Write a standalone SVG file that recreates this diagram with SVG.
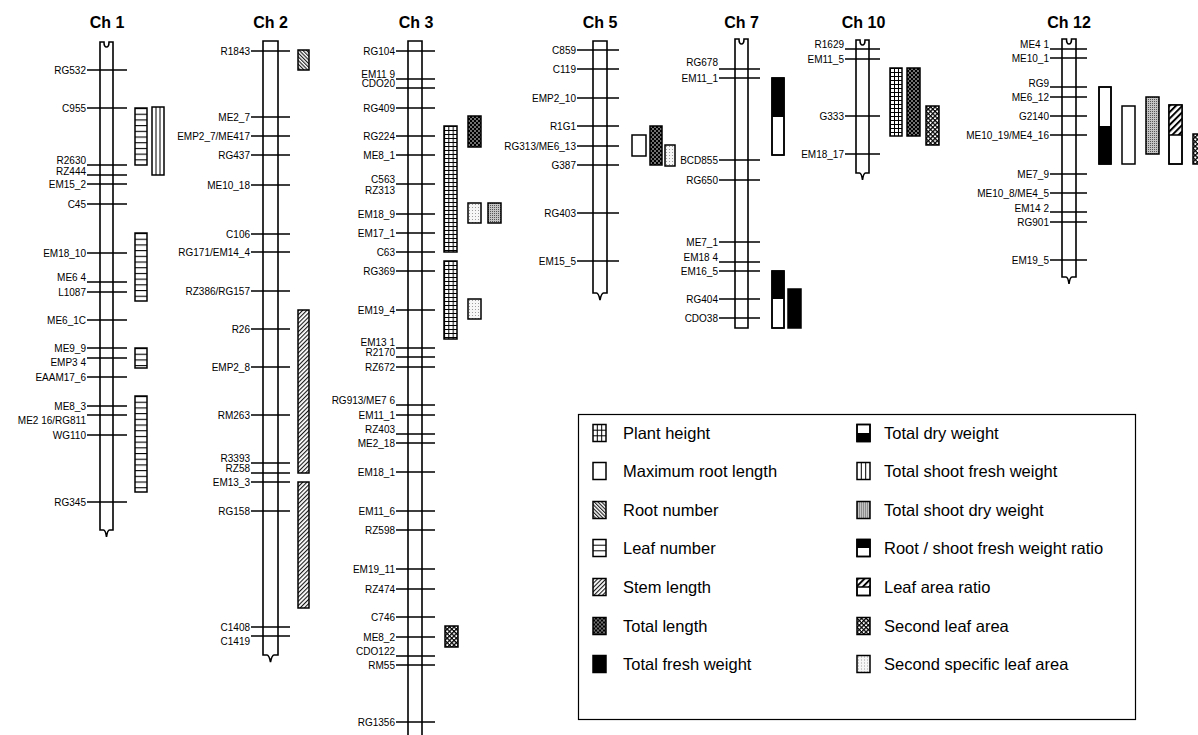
<svg xmlns="http://www.w3.org/2000/svg" width="1198" height="735" viewBox="0 0 1198 735">
<style>
text{font-family:"Liberation Sans",Arial,sans-serif;fill:#000}
.l{font-size:10px;text-anchor:end}
.ti{font-size:16px;font-weight:bold;text-anchor:middle}
.lg{font-size:16.5px}
.chr{fill:#fff;stroke:#000;stroke-width:1.6}
.m{stroke:#000;stroke-width:1.5}
.b{stroke:#000;stroke-width:1.5}
.in{stroke:#000;stroke-width:1;fill:none}
</style>
<defs>
<pattern id="pGrid" patternUnits="userSpaceOnUse" width="4.33" height="4"><rect width="4.33" height="4" fill="#fff"/><path d="M0,0.5H4.33M0.5,0V4" stroke="#000" stroke-width="1"/></pattern>
<pattern id="pGrid4" patternUnits="userSpaceOnUse" width="4" height="4"><rect width="4" height="4" fill="#fff"/><path d="M0,0.5H4M0.5,0V4" stroke="#000" stroke-width="1"/></pattern>
<pattern id="pLeaf" patternUnits="userSpaceOnUse" width="12" height="5.7"><rect width="12" height="5.7" fill="#fff"/><path d="M0,0.5H12" stroke="#000" stroke-width="1.2"/></pattern>
<pattern id="pRoot" patternUnits="userSpaceOnUse" width="2.6" height="2.6" patternTransform="rotate(-45)"><rect width="2.6" height="2.6" fill="#fff"/><path d="M0.6,0V2.6" stroke="#000" stroke-width="1"/></pattern>
<pattern id="pStem" patternUnits="userSpaceOnUse" width="3" height="3" patternTransform="rotate(45)"><rect width="3" height="3" fill="#fff"/><path d="M0.6,0V3" stroke="#000" stroke-width="1"/></pattern>
<pattern id="pLar" patternUnits="userSpaceOnUse" width="4.5" height="4.5" patternTransform="rotate(45)"><rect width="4.5" height="4.5" fill="#fff"/><path d="M1,0V4.5" stroke="#000" stroke-width="2"/></pattern>
<pattern id="pDots" patternUnits="userSpaceOnUse" width="4" height="4"><rect width="4" height="4" fill="#000"/><circle cx="1" cy="1" r="0.8" fill="#fff"/><circle cx="3" cy="3" r="0.8" fill="#fff"/></pattern>
<pattern id="pSla" patternUnits="userSpaceOnUse" width="3.2" height="3.2" patternTransform="rotate(45)"><rect width="3.2" height="3.2" fill="#fff"/><path d="M0,0.6H3.2M0.6,0V3.2" stroke="#000" stroke-width="1.3"/></pattern>
<pattern id="pGray" patternUnits="userSpaceOnUse" width="2" height="2"><rect width="2" height="2" fill="#c4c4c4"/><rect width="1" height="1" fill="#555"/></pattern>
<pattern id="pSsla" patternUnits="userSpaceOnUse" width="3" height="3"><rect width="3" height="3" fill="#f6f6f6"/><rect x="1" y="1" width="0.9" height="0.9" fill="#888"/></pattern>
</defs>

<g id="ch1">
<text class="ti" x="107" y="28">Ch 1</text>
<path class="chr" d="M100,530V42H104q0,5 2.5,5q2.5,0 2.5,-5H113V530H109.5Q107.5,530 106.5,537Q105.5,530 103.5,530Z"/>
<path class="m" d="M87,70H127M87,108H127M87,165H127M87,175H127M87,184H127M87,204H127M87,253H127M87,282H127M87,292H127M87,320H127M87,348H127M87,358H127M87,377H127M87,406H127M87,415H127M87,435H127M87,502H127"/>
<text class="l" x="86" y="73.5">RG532</text>
<text class="l" x="86" y="111.5">C955</text>
<text class="l" x="86" y="164">R2630</text>
<text class="l" x="86" y="174.5">RZ444</text>
<text class="l" x="86" y="187.5">EM15_2</text>
<text class="l" x="86" y="207.5">C45</text>
<text class="l" x="86" y="256.5">EM18_10</text>
<text class="l" x="86" y="281">ME6 4</text>
<text class="l" x="86" y="295.5">L1087</text>
<text class="l" x="86" y="323.5">ME6_1C</text>
<text class="l" x="86" y="351.5">ME9_9</text>
<text class="l" x="86" y="366">EMP3 4</text>
<text class="l" x="86" y="380.5">EAAM17_6</text>
<text class="l" x="86" y="409.5">ME8_3</text>
<text class="l" x="86" y="424">ME2 16/RG811</text>
<text class="l" x="86" y="438.5">WG110</text>
<text class="l" x="86" y="505.5">RG345</text>
</g>
<g id="qtl-ch1">
<g transform="translate(135,108)"><rect class="b" width="12" height="57" fill="url(#pLeaf)"/></g>
<g transform="translate(135,233)"><rect class="b" width="12" height="68" fill="url(#pLeaf)"/></g>
<g transform="translate(135,348)"><rect class="b" width="12" height="20" fill="url(#pLeaf)"/></g>
<g transform="translate(135,396)"><rect class="b" width="12" height="96" fill="url(#pLeaf)"/></g>
<g transform="translate(152,107)"><rect class="b" width="12" height="68" fill="#fff"/><path class="in" d="M4,0V68M8,0V68"/></g>
</g>

<g id="ch2">
<text class="ti" x="270.5" y="28">Ch 2</text>
<path class="chr" d="M263,655V41H278V655H274Q272,655 270.5,662Q269,655 267,655Z"/>
<path class="m" d="M251,51H290M251,117H290M251,136H290M251,155H290M251,185H290M251,234H290M251,252H290M251,291H290M251,329H290M251,367H290M251,415H290M251,463H290M251,473H290M251,482H290M251,511H290M251,627H290M251,636H290"/>
<text class="l" x="250" y="54.5">R1843</text>
<text class="l" x="250" y="120.5">ME2_7</text>
<text class="l" x="250" y="139.5">EMP2_7/ME417</text>
<text class="l" x="250" y="158.5">RG437</text>
<text class="l" x="250" y="188.5">ME10_18</text>
<text class="l" x="250" y="237.5">C106</text>
<text class="l" x="250" y="255.5">RG171/EM14_4</text>
<text class="l" x="250" y="294.5">RZ386/RG157</text>
<text class="l" x="250" y="332.5">R26</text>
<text class="l" x="250" y="370.5">EMP2_8</text>
<text class="l" x="250" y="418.5">RM263</text>
<text class="l" x="250" y="462">R3393</text>
<text class="l" x="250" y="472">RZ58</text>
<text class="l" x="250" y="485.5">EM13_3</text>
<text class="l" x="250" y="514.5">RG158</text>
<text class="l" x="250" y="630.5">C1408</text>
<text class="l" x="250" y="645">C1419</text>
</g>
<g id="qtl-ch2">
<g transform="translate(298,50)"><rect class="b" width="11" height="20" fill="url(#pRoot)"/></g>
<g transform="translate(298,310)"><rect class="b" width="11" height="163" fill="url(#pStem)"/></g>
<g transform="translate(298,482)"><rect class="b" width="11" height="126" fill="url(#pStem)"/></g>
</g>

<g id="ch3">
<text class="ti" x="416" y="28">Ch 3</text>
<path class="chr" d="M408,745V41H422V745"/>
<path class="m" d="M396,51H435M396,79H435M396,88H435M396,108H435M396,136H435M396,155H435M396,184H435M396,214H435M396,233H435M396,252H435M396,271H435M396,310H435M396,348H435M396,357H435M396,367H435M396,405H435M396,415H435M396,434H435M396,443H435M396,472H435M396,511H435M396,530H435M396,569H435M396,589H435M396,617H435M396,637H435M396,656H435M396,665H435M396,722H435"/>
<text class="l" x="395" y="54.5">RG104</text>
<text class="l" x="395" y="77.5">EM11 9</text>
<text class="l" x="395" y="87">CDO20</text>
<text class="l" x="395" y="111.5">RG409</text>
<text class="l" x="395" y="139.5">RG224</text>
<text class="l" x="395" y="158.5">ME8_1</text>
<text class="l" x="395" y="183">C563</text>
<text class="l" x="395" y="193.5">RZ313</text>
<text class="l" x="395" y="217.5">EM18_9</text>
<text class="l" x="395" y="236.5">EM17_1</text>
<text class="l" x="395" y="255.5">C63</text>
<text class="l" x="395" y="274.5">RG369</text>
<text class="l" x="395" y="313.5">EM19_4</text>
<text class="l" x="395" y="346">EM13 1</text>
<text class="l" x="395" y="356">R2170</text>
<text class="l" x="395" y="370.5">RZ672</text>
<text class="l" x="395" y="403.5">RG913/ME7 6</text>
<text class="l" x="395" y="418.5">EM11_1</text>
<text class="l" x="395" y="433">RZ403</text>
<text class="l" x="395" y="446.5">ME2_18</text>
<text class="l" x="395" y="475.5">EM18_1</text>
<text class="l" x="395" y="514.5">EM11_6</text>
<text class="l" x="395" y="533.5">RZ598</text>
<text class="l" x="395" y="572.5">EM19_11</text>
<text class="l" x="395" y="592.5">RZ474</text>
<text class="l" x="395" y="620.5">C746</text>
<text class="l" x="395" y="640.5">ME8_2</text>
<text class="l" x="395" y="655">CDO122</text>
<text class="l" x="395" y="668.5">RM55</text>
<text class="l" x="395" y="725.5">RG1356</text>
</g>
<g id="qtl-ch3">
<g transform="translate(444,126)"><rect class="b" width="13" height="126" fill="url(#pGrid)"/></g>
<g transform="translate(444,261)"><rect class="b" width="13" height="78" fill="url(#pGrid)"/></g>
<g transform="translate(468,116)"><rect class="b" width="13" height="31" fill="url(#pDots)"/></g>
<g transform="translate(468,203)"><rect class="b" width="13" height="20" fill="url(#pSsla)"/></g>
<g transform="translate(488,203)"><rect class="b" width="13" height="20" fill="url(#pGray)"/></g>
<g transform="translate(468,299)"><rect class="b" width="13" height="20" fill="url(#pSsla)"/></g>
<g transform="translate(445,626)"><rect class="b" width="13" height="21" fill="url(#pSla)"/></g>
</g>

<g id="ch5">
<text class="ti" x="600" y="28">Ch 5</text>
<path class="chr" d="M593,293V41H607V293H603.5Q601.5,293 600,300Q598.5,293 596.5,293Z"/>
<path class="m" d="M577,50H619M577,69H619M577,98H619M577,126H619M577,146H619M577,165H619M577,213H619M577,261H619"/>
<text class="l" x="576" y="53.5">C859</text>
<text class="l" x="576" y="72.5">C119</text>
<text class="l" x="576" y="101.5">EMP2_10</text>
<text class="l" x="576" y="129.5">R1G1</text>
<text class="l" x="576" y="149.5">RG313/ME6_13</text>
<text class="l" x="576" y="168.5">G387</text>
<text class="l" x="576" y="216.5">RG403</text>
<text class="l" x="576" y="264.5">EM15_5</text>
</g>
<g id="qtl-ch5">
<g transform="translate(632,135)"><rect class="b" width="14" height="21" fill="#fff"/></g>
<g transform="translate(650,126)"><rect class="b" width="12" height="39" fill="url(#pDots)"/></g>
<g transform="translate(665,145)"><rect class="b" width="10" height="21" fill="url(#pSsla)"/></g>
</g>

<g id="ch7">
<text class="ti" x="741.5" y="28">Ch 7</text>
<path class="chr" d="M735,328V39H739q0,5 2.5,5q2.5,0 2.5,-5H748V328Z"/>
<path class="m" d="M719,69H760M719,78H760M719,160H760M719,180H760M719,242H760M719,262H760M719,271H760M719,299H760M719,318H760"/>
<text class="l" x="718" y="66">RG678</text>
<text class="l" x="718" y="81.5">EM11_1</text>
<text class="l" x="718" y="163.5">BCD855</text>
<text class="l" x="718" y="183.5">RG650</text>
<text class="l" x="718" y="245.5">ME7_1</text>
<text class="l" x="718" y="261">EM18 4</text>
<text class="l" x="718" y="274.5">EM16_5</text>
<text class="l" x="718" y="302.5">RG404</text>
<text class="l" x="718" y="321.5">CDO38</text>
</g>
<g id="qtl-ch7">
<g transform="translate(772,78)"><rect class="b" width="12" height="77" fill="#fff"/><rect width="12" height="39" fill="#000"/><rect class="b" width="12" height="77" fill="none"/></g>
<g transform="translate(772,271)"><rect class="b" width="12" height="57" fill="#fff"/><rect width="12" height="28" fill="#000"/><rect class="b" width="12" height="57" fill="none"/></g>
<g transform="translate(788,289)"><rect class="b" width="13" height="39" fill="#000"/></g>
</g>

<g id="ch10">
<text class="ti" x="863.5" y="28">Ch 10</text>
<path class="chr" d="M856,173V40H860q0,5 2.5,5q2.5,0 2.5,-5H869V173H865.5Q863.5,173 862.5,180Q861.5,173 859.5,173Z"/>
<path class="m" d="M845,49H880M845,59H880M845,116H880M845,154H880"/>
<text class="l" x="844" y="48">R1629</text>
<text class="l" x="844" y="62.5">EM11_5</text>
<text class="l" x="844" y="119.5">G333</text>
<text class="l" x="844" y="157.5">EM18_17</text>
</g>
<g id="qtl-ch10">
<g transform="translate(890,68)"><rect class="b" width="12" height="68" fill="url(#pGrid4)"/></g>
<g transform="translate(907,68)"><rect class="b" width="13" height="68" fill="url(#pDots)"/></g>
<g transform="translate(926,106)"><rect class="b" width="13" height="39" fill="url(#pSla)"/></g>
</g>

<g id="ch12">
<text class="ti" x="1069" y="28">Ch 12</text>
<path class="chr" d="M1062,277V39H1066.5q0,5 2.5,5q2.5,0 2.5,-5H1076V277H1072Q1070,277 1069,284Q1068,277 1066,277Z"/>
<path class="m" d="M1050,49H1087M1050,58H1087M1050,87H1087M1050,97H1087M1050,116H1087M1050,135H1087M1050,174H1087M1050,193H1087M1050,212H1087M1050,222H1087M1050,260H1087"/>
<text class="l" x="1049" y="48">ME4 1</text>
<text class="l" x="1049" y="61.5">ME10_1</text>
<text class="l" x="1049" y="87">RG9</text>
<text class="l" x="1049" y="100.5">ME6_12</text>
<text class="l" x="1049" y="119.5">G2140</text>
<text class="l" x="1049" y="138.5">ME10_19/ME4_16</text>
<text class="l" x="1049" y="177.5">ME7_9</text>
<text class="l" x="1049" y="196.5">ME10_8/ME4_5</text>
<text class="l" x="1049" y="212">EM14 2</text>
<text class="l" x="1049" y="225.5">RG901</text>
<text class="l" x="1049" y="263.5">EM19_5</text>
</g>
<g id="qtl-ch12">
<g transform="translate(1099,87)"><rect class="b" width="12" height="77" fill="#fff"/><rect y="39" width="12" height="38" fill="#000"/><rect class="b" width="12" height="77" fill="none"/></g>
<g transform="translate(1122,106)"><rect class="b" width="13" height="58" fill="#fff"/></g>
<g transform="translate(1146,97)"><rect class="b" width="13" height="57" fill="url(#pGray)"/></g>
<g transform="translate(1169,105)"><rect class="b" width="13" height="59" fill="#fff"/><rect width="13" height="30" fill="url(#pLar)"/><path class="b" d="M0,30H13"/><rect class="b" width="13" height="59" fill="none"/></g>
<g transform="translate(1193,134)"><rect class="b" width="13" height="30" fill="url(#pSla)"/></g>
</g>

<g id="legend">
<rect x="578.5" y="414.5" width="557" height="305" fill="#fff" stroke="#000" stroke-width="1.2"/>
<g transform="translate(593,424.5)"><rect class="b" width="13" height="17" fill="#fff"/><path class="in" d="M4.3,0V17M8.7,0V17M0,5.7H13M0,11.3H13"/></g>
<text class="lg" x="623" y="439">Plant height</text>
<g transform="translate(593,462.5)"><rect class="b" width="13" height="17" fill="#fff"/></g>
<text class="lg" x="623" y="477">Maximum root length</text>
<g transform="translate(593,501.5)"><rect class="b" width="13" height="17" fill="url(#pRoot)"/></g>
<text class="lg" x="623" y="516">Root number</text>
<g transform="translate(593,539.5)"><rect class="b" width="13" height="17" fill="#fff"/><path class="in" d="M0,5.7H13M0,11.3H13"/></g>
<text class="lg" x="623" y="554">Leaf number</text>
<g transform="translate(593,578.5)"><rect class="b" width="13" height="17" fill="url(#pStem)"/></g>
<text class="lg" x="623" y="593">Stem length</text>
<g transform="translate(593,617.5)"><rect class="b" width="13" height="17" fill="url(#pDots)"/></g>
<text class="lg" x="623" y="632">Total length</text>
<g transform="translate(593,655.5)"><rect class="b" width="13" height="17" fill="#000"/></g>
<text class="lg" x="623" y="670">Total fresh weight</text>

<g transform="translate(857,424.5)"><rect class="b" width="13" height="17" fill="#fff"/><rect y="8.5" width="13" height="8.5" fill="#000"/><rect class="b" width="13" height="17" fill="none"/></g>
<text class="lg" x="884" y="439">Total dry weight</text>
<g transform="translate(857,462.5)"><rect class="b" width="13" height="17" fill="#fff"/><path class="in" d="M4.3,0V17M8.7,0V17"/></g>
<text class="lg" x="884" y="477">Total shoot fresh weight</text>
<g transform="translate(857,501.5)"><rect class="b" width="13" height="17" fill="url(#pGray)"/></g>
<text class="lg" x="884" y="516">Total shoot dry weight</text>
<g transform="translate(857,539.5)"><rect class="b" width="13" height="17" fill="#fff"/><rect width="13" height="8.5" fill="#000"/><rect class="b" width="13" height="17" fill="none"/></g>
<text class="lg" x="884" y="554">Root / shoot fresh weight ratio</text>
<g transform="translate(857,578.5)"><rect class="b" width="13" height="17" fill="#fff"/><rect width="13" height="8.5" fill="url(#pLar)"/><path class="b" d="M0,8.5H13"/><rect class="b" width="13" height="17" fill="none"/></g>
<text class="lg" x="884" y="593">Leaf area ratio</text>
<g transform="translate(857,617.5)"><rect class="b" width="13" height="17" fill="url(#pSla)"/></g>
<text class="lg" x="884" y="632">Second leaf area</text>
<g transform="translate(857,655.5)"><rect class="b" width="13" height="17" fill="url(#pSsla)"/></g>
<text class="lg" x="884" y="670">Second specific leaf area</text>
</g>
</svg>
